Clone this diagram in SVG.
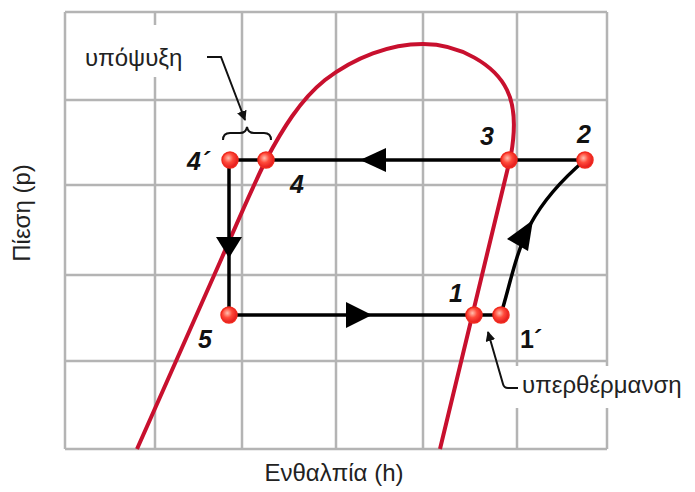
<svg xmlns="http://www.w3.org/2000/svg" width="695" height="492" viewBox="0 0 695 492">
<defs>
<radialGradient id="dotg" cx="40%" cy="38%" r="65%">
<stop offset="0" stop-color="#ffc0b0"/>
<stop offset="0.45" stop-color="#ff4a3a"/>
<stop offset="1" stop-color="#e0141a"/>
</radialGradient>
<marker id="lead" viewBox="0 0 10 10" refX="9" refY="5" markerWidth="10" markerHeight="10" markerUnits="userSpaceOnUse" orient="auto">
<path d="M0,0 L10,5 L0,10 Z" fill="#111"/>
</marker>
<style>
.grid{stroke:#b4b4b4;stroke-width:2.5;fill:none}
.sat{stroke:#c8102e;stroke-width:4;fill:none;stroke-linejoin:round}
.flow{stroke:#000;stroke-width:3.5;fill:none}
.head{fill:#000}
.leader{stroke:#111;stroke-width:2;fill:none}
.dot{fill:url(#dotg);stroke:#f02a1e;stroke-width:1.5}
.num{font-family:"Liberation Sans",Arial,sans-serif;font-weight:bold;font-style:italic;font-size:25px;fill:#111}
.lbl{font-family:"Liberation Sans",Arial,sans-serif;font-size:24px;fill:#222}
</style>
</defs>
<rect width="695" height="492" fill="#fff"/>
<g id="grid">
<path class="grid" d="M65,12 V449 M155,12 V449 M242,12 V449 M336,12 V449 M423,12 V449 M517,12 V449 M607,12 V449 M65,12 H607 M65,100 H607 M65,185 H607 M65,275 H607 M65,361 H607 M65,449 H607"/>
<rect x="78" y="25" width="124" height="52" fill="#fff"/>
<rect x="512" y="366" width="183" height="42" fill="#fff"/>
</g>
<g id="saturation-curve">
<path class="sat" d="M137,449 L220,262 C235,228 250,192 266,160 C282,130 300,100 325,80 C355,57 390,44 423,44 C460,44 495,65 507,90 C516,108 515,132 511,155 L440,449"/>
</g>
<g id="connectors">
<path class="flow" d="M585,160 H230"/>
<path class="flow" d="M229,160 V315"/>
<path class="flow" d="M229,315 H501"/>
<path class="flow" d="M501,314 C510,285 515,255 530,225 C545,197 565,177 585,160"/>
<polygon class="head" points="360,160 386,148 386,172"/>
<polygon class="head" points="229,258 216,237 242,237"/>
<polygon class="head" points="372,315 346,302 346,328"/>
<polygon class="head" points="533,220 507,239 528,251"/>
<path class="leader" d="M207,57 H221 L245,120" marker-end="url(#lead)"/>
<path class="leader" d="M223,140 Q223,133 230,133 L240,133 Q246,133 247,127 Q248,133 254,133 L264,133 Q271,133 271,140"/>
<path class="leader" d="M518,388 H508 Q504,388 503,384 L488,332" marker-end="url(#lead)"/>
</g>
<g id="node-4p"><circle class="dot" cx="230" cy="160" r="8"/><text class="num" x="187" y="170">4´</text></g>
<g id="node-4"><circle class="dot" cx="266" cy="160" r="8"/><text class="num" x="290" y="193">4</text></g>
<g id="node-3"><circle class="dot" cx="509" cy="160" r="8"/><text class="num" x="480" y="145">3</text></g>
<g id="node-2"><circle class="dot" cx="585" cy="160" r="8"/><text class="num" x="577" y="143">2</text></g>
<g id="node-5"><circle class="dot" cx="229" cy="315" r="8"/><text class="num" x="198" y="348">5</text></g>
<g id="node-1"><circle class="dot" cx="474" cy="315" r="8"/><text class="num" x="449" y="302">1</text></g>
<g id="node-1p"><circle class="dot" cx="501" cy="315" r="8"/><text class="num" style="font-style:normal" x="520" y="348">1´</text></g>
<g id="labels">
<text class="lbl" x="85" y="66">υπόψυξη</text>
<text class="lbl" x="522" y="393">υπερθέρμανση</text>
<text class="lbl" x="334" y="481" text-anchor="middle">Ενθαλπία (h)</text>
<text class="lbl" transform="translate(30,213) rotate(-90)" text-anchor="middle">Πίεση (p)</text>
</g>
</svg>
